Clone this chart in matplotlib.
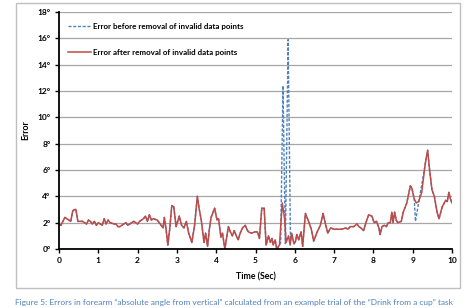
import matplotlib.pyplot as plt
from matplotlib.patches import Rectangle
import numpy as np

# error after removal of invalid data points (deg)
time_sec = [0.00, 0.05, 0.10, 0.15, 0.20, 0.25, 0.30, 0.35, 0.40, 0.43, 0.48, 0.55,
            0.60, 0.65, 0.70, 0.75, 0.80, 0.85, 0.90, 0.95, 1.00, 1.05, 1.10, 1.15,
            1.20, 1.25, 1.30, 1.40, 1.45, 1.50, 1.55, 1.60, 1.65, 1.70, 1.75, 1.80,
            1.85, 1.90, 1.95, 2.00, 2.05, 2.10, 2.15, 2.20, 2.25, 2.30, 2.35, 2.40,
            2.50, 2.55, 2.60, 2.65, 2.68, 2.72, 2.77, 2.82, 2.87, 2.92, 2.98, 3.06,
            3.12, 3.18, 3.24, 3.30, 3.38, 3.45, 3.52, 3.57, 3.62, 3.69, 3.73, 3.78,
            3.83, 3.87, 3.96, 4.02, 4.06, 4.12, 4.16, 4.20, 4.22, 4.31, 4.36, 4.41,
            4.46, 4.51, 4.56, 4.61, 4.67, 4.74, 4.78, 4.82, 4.90, 4.98, 5.05, 5.10,
            5.16, 5.22, 5.27, 5.33, 5.38, 5.42, 5.45, 5.50, 5.54, 5.61, 5.68, 5.74,
            5.78, 5.84, 5.88, 5.92, 5.98, 6.02, 6.05, 6.10, 6.16, 6.20, 6.27, 6.35,
            6.42, 6.48, 6.57, 6.65, 6.72, 6.78, 6.84, 6.91, 7.00, 7.10, 7.20, 7.30,
            7.35, 7.41, 7.50, 7.58, 7.63, 7.68, 7.75, 7.82, 7.88, 7.96, 8.02, 8.08,
            8.14, 8.17, 8.22, 8.28, 8.33, 8.38, 8.43, 8.47, 8.50, 8.54, 8.58, 8.62,
            8.71, 8.76, 8.85, 8.94, 8.98, 9.04, 9.09, 9.15, 9.23, 9.32, 9.38, 9.43,
            9.49, 9.55, 9.62, 9.67, 9.75, 9.84, 9.88, 9.92, 9.96, 10.00]
error_after = [1.9, 1.8, 2.1, 2.4, 2.3, 2.2, 2.1, 2.9, 3.0, 3.0, 2.1, 2.1,
               2.1, 2.0, 1.9, 2.2, 2.1, 1.9, 2.1, 1.8, 2.0, 1.9, 1.8, 2.3,
               1.9, 2.2, 2.0, 1.9, 1.9, 1.7, 1.7, 1.8, 1.9, 2.0, 1.8, 1.9,
               2.0, 2.1, 2.0, 1.9, 2.1, 2.2, 2.3, 2.5, 2.1, 2.6, 2.2, 2.3,
               2.2, 2.0, 1.8, 1.6, 2.4, 1.6, 0.3, 1.6, 3.3, 3.2, 1.7, 2.5,
               1.8, 1.6, 2.1, 1.2, 0.5, 1.8, 4.0, 3.0, 2.2, 0.5, 1.2, 0.2,
               1.6, 2.4, 3.1, 2.2, 2.3, 0.9, 1.2, 0.4, 0.0, 1.7, 1.3, 1.0,
               1.4, 1.0, 0.7, 1.2, 1.6, 1.8, 1.5, 1.3, 1.2, 1.3, 1.3, 0.8,
               3.1, 3.1, 0.3, 1.0, 0.5, 0.8, 0.3, 0.7, 0.0, 0.3, 3.5, 2.3,
               0.5, 1.0, 0.3, 1.2, 0.4, 0.6, 1.1, 0.7, 1.3, 0.2, 2.7, 2.1,
               1.5, 0.6, 1.3, 1.8, 2.7, 1.9, 1.2, 1.6, 1.5, 1.5, 1.5, 1.6,
               1.5, 1.7, 1.7, 1.9, 1.7, 1.6, 1.4, 2.1, 2.6, 2.5, 2.0, 2.1,
               1.6, 1.1, 1.7, 1.8, 1.7, 2.0, 2.0, 2.8, 2.0, 2.8, 2.2, 2.0,
               2.1, 2.8, 3.5, 4.8, 4.6, 3.8, 3.5, 3.6, 4.3, 6.5, 7.5, 6.0,
               4.5, 4.0, 2.8, 2.3, 3.2, 3.7, 3.6, 4.3, 3.8, 3.5]

# invalid data points, only present in the "before" series
invalid_t = [5.64, 5.70, 5.76, 5.83, 5.89, 9.07, 9.23]
invalid_v = [0.5, 12.4, 0.4, 15.9, 0.6, 2.1, 4.9]
replaced_windows = [(5.62, 5.91), (9.05, 9.27)]

y_ticks = [0, 2, 4, 6, 8, 10, 12, 14, 16, 18]
x_ticks = list(range(0, 11))

# build the "before" series: valid points + invalid ones
t_arr = np.array(time_sec)
v_arr = np.array(error_after)
keep = np.ones(len(t_arr), dtype=bool)
for a, b in replaced_windows:
    keep &= ~((t_arr > a) & (t_arr < b))
before_t = np.concatenate([t_arr[keep], invalid_t])
before_v = np.concatenate([v_arr[keep], invalid_v])
order = np.argsort(before_t)
before_t, before_v = before_t[order], before_v[order]

plt.rcParams['font.family'] = ['Lato', 'DejaVu Sans']

fig = plt.figure(figsize=(4.66, 3.08), dpi=100)
fig.patches.append(Rectangle((15.5 / 466, 1 - 288 / 308), 444 / 466, 285 / 308,
                             transform=fig.transFigure, fill=False,
                             edgecolor='#BFBFBF', linewidth=1.0))

ax = fig.add_axes([59 / 466, 1 - 249 / 308, 393 / 466, 237 / 308])
ax.plot(before_t, before_v, color='#4F81BD', lw=1.0, ls=(0, (2.2, 1.2)),
        label='Error before removal of invalid data points')
ax.plot(time_sec, error_after, color='#BE4B48', lw=1.1,
        label='Error after removal of invalid data points')

ax.set_xlim(0, 10)
ax.set_ylim(0, 18)
ax.set_xticks(x_ticks)
ax.set_yticks(y_ticks)
ax.set_yticklabels([f'{v}°' for v in y_ticks])
ax.tick_params(labelsize=6, length=3, width=1.0, pad=3)
for lab in ax.get_xticklabels() + ax.get_yticklabels():
    lab.set_fontweight('bold')
ax.yaxis.grid(True, color='#A6A6A6', lw=0.9)
ax.set_axisbelow(True)
for s in ['top', 'right']:
    ax.spines[s].set_visible(False)
for s in ['left', 'bottom']:
    ax.spines[s].set_linewidth(1.3)

ax.set_xlabel('Time (Sec)', fontsize=6.3, fontweight='bold', labelpad=6)
ax.set_ylabel('Error', fontsize=6.3, fontweight='bold', labelpad=5)

ax.legend(loc='upper left', bbox_to_anchor=(0.005, 0.985), frameon=False,
          prop={'size': 5.8, 'weight': 'bold'}, labelspacing=2.4,
          handlelength=2.8, handletextpad=0.3)

fig.text(15 / 466, 1 - 305.5 / 308,
         'Figure 5: Errors in forearm “absolute angle from vertical” calculated '
         'from an example trial of the “Drink from a cup” task',
         color='#4F81BD', fontsize=6.05, va='baseline', ha='left')

fig.savefig('out.png', dpi=100)
